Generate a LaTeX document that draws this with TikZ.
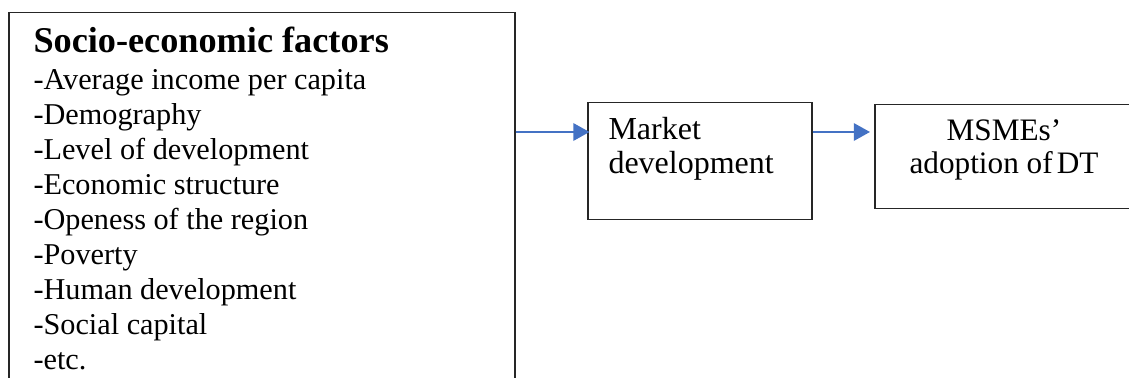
\documentclass[tikz,border=0pt]{standalone}
\usepackage{fontspec}
\IfFontExistsTF{LiberationSerif-Regular.ttf}
 {\setmainfont{LiberationSerif-Regular.ttf}[BoldFont=LiberationSerif-Bold.ttf]}
 {\setmainfont{Liberation Serif}}
\usetikzlibrary{arrows.meta}
\definecolor{arr}{HTML}{4472C4}
\tikzset{bx/.style={draw=black!85,line width=.6pt,anchor=north west,inner sep=0pt},
 lbl/.style={anchor=base west,inner sep=0pt,font=\rmfamily\fontsize{12.1}{14}\selectfont},
 lblb/.style={lbl,font=\rmfamily\fontsize{12.8}{15}\selectfont},
 lblc/.style={lbl,anchor=base,font=\rmfamily\fontsize{12.5}{15}\selectfont},
 flow/.style={-{Triangle[length=6.5pt,width=7pt]},draw=arr,fill=arr,line width=.8pt}}

\begin{document}
\begin{tikzpicture}[x=.4pt,y=.4pt]
\useasboundingbox (0,0) rectangle (1129,-378);
\clip (0,0) rectangle (1129,-378);
\node[bx,minimum width=202.4pt,minimum height=160pt] (fac) at (8,-12){};
\node[lbl,font=\rmfamily\fontsize{14.5}{16}\selectfont\bfseries] (fh) at (33,-53){Socio-economic factors};
\foreach \i/\lab in {0/Average income per capita,1/Demography,2/Level of development,
 3/Economic structure,4/Openess of the region,5/Poverty,6/Human development,
 7/Social capital,8/etc.}
 \node[lbl] (f\i) at (33,-90-35*\i){-\lab};
\node[bx,minimum width=89.6pt,minimum height=46.8pt] (mkt) at (587,-102){};
\node[lblb] (m1) at (608,-140){Market};
\node[lblb] (m2) at (608,-174){development};
\node[bx,minimum width=106.4pt,minimum height=41.6pt] (msm) at (874,-104){};
\node[lblc] (d1) at (1004,-141){MSMEs’};
\node[lblc] (d2) at (1004,-174){adoption of\hspace{-1.5pt} DT};
\coordinate (ay) at (0,-132);
\draw[flow] (fac.east |- ay) -- ([xshift=1pt]mkt.west |- ay);
\draw[flow,shorten >=1.6pt] (mkt.east |- ay) -- (msm.west |- ay);
\end{tikzpicture}
\end{document}
